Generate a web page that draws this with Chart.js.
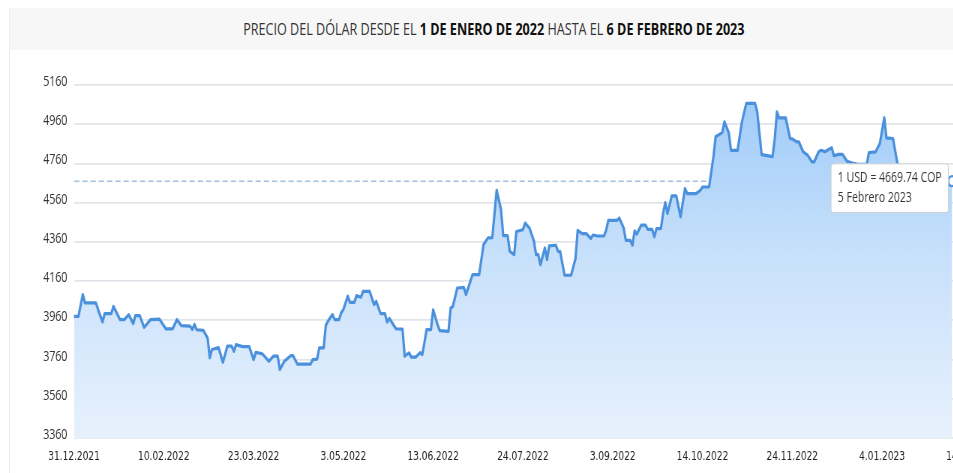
<!DOCTYPE html>
<html>
<head>
<meta charset="utf-8">
<script src="https://cdn.jsdelivr.net/npm/chart.js@4/dist/chart.umd.min.js"></script>
<style>
  html, body { margin:0; padding:0; width:953px; height:473px; overflow:hidden; background:#fff; }
  #wrap { position:absolute; left:0; top:0; width:1365px; height:473px; transform:scaleX(0.75); transform-origin:0 0; }
  #frame { position:absolute; left:12px; top:8px; width:1400px; height:470px; border-left:1.4px solid #e2e2e2; }
  #title { position:absolute; left:13px; top:8px; width:1291px; height:42px; background:#f7f7f7;
           font-family:"Open Sans", sans-serif; font-size:16.8px; color:#333; line-height:42px; text-align:center; white-space:nowrap; }
  #title b { color:#111; font-weight:700; }
  #c { position:absolute; left:0; top:50px; }
</style>
</head>
<body>
<div id="wrap">
  <div id="frame"></div>
  <div id="title">PRECIO DEL DÓLAR DESDE EL <b>1 DE ENERO DE 2022</b> HASTA EL <b>6 DE FEBRERO DE 2023</b></div>
  <canvas id="c" width="1365" height="423"></canvas>
</div>
<script>
// ---- data ----
const dates = [
  "2021-12-31","2022-01-02","2022-01-04","2022-01-05","2022-01-10","2022-01-11","2022-01-13","2022-01-14",
  "2022-01-17","2022-01-18","2022-01-21","2022-01-23","2022-01-25","2022-01-27","2022-01-28","2022-01-30",
  "2022-02-01","2022-02-04","2022-02-08","2022-02-11","2022-02-14","2022-02-16","2022-02-18","2022-02-22",
  "2022-02-23","2022-02-24","2022-02-25","2022-02-28","2022-03-02","2022-03-03","2022-03-04","2022-03-07",
  "2022-03-09","2022-03-11","2022-03-13","2022-03-14","2022-03-15","2022-03-18","2022-03-21","2022-03-23",
  "2022-03-24","2022-03-27","2022-03-30","2022-04-01","2022-04-03","2022-04-04","2022-04-06","2022-04-09",
  "2022-04-10","2022-04-12","2022-04-18","2022-04-19","2022-04-21","2022-04-22","2022-04-24","2022-04-25",
  "2022-04-26","2022-04-28","2022-04-29","2022-05-01","2022-05-02","2022-05-03","2022-05-05","2022-05-06",
  "2022-05-08","2022-05-09","2022-05-11","2022-05-12","2022-05-15","2022-05-17","2022-05-18","2022-05-20",
  "2022-05-22","2022-05-23","2022-05-24","2022-05-27","2022-05-30","2022-05-31","2022-06-02","2022-06-03",
  "2022-06-05","2022-06-07","2022-06-08","2022-06-09","2022-06-10","2022-06-12","2022-06-13","2022-06-15",
  "2022-06-16","2022-06-20","2022-06-21","2022-06-22","2022-06-24","2022-06-27","2022-06-28","2022-07-01",
  "2022-07-04","2022-07-05","2022-07-06","2022-07-08","2022-07-10","2022-07-12","2022-07-14","2022-07-15",
  "2022-07-17","2022-07-18","2022-07-20","2022-07-21","2022-07-24","2022-07-25","2022-07-27","2022-07-29",
  "2022-07-30","2022-07-31","2022-08-01","2022-08-03","2022-08-04","2022-08-05","2022-08-08","2022-08-09",
  "2022-08-10","2022-08-12","2022-08-15","2022-08-17","2022-08-18","2022-08-20","2022-08-22","2022-08-24",
  "2022-08-25","2022-08-27","2022-08-30","2022-08-31","2022-09-01","2022-09-05","2022-09-06","2022-09-08",
  "2022-09-09","2022-09-11","2022-09-12","2022-09-13","2022-09-14","2022-09-16","2022-09-18","2022-09-19",
  "2022-09-21","2022-09-22","2022-09-23","2022-09-25","2022-09-26","2022-09-27","2022-09-28","2022-09-30",
  "2022-10-02","2022-10-04","2022-10-06","2022-10-07","2022-10-11","2022-10-13","2022-10-14","2022-10-17",
  "2022-10-19","2022-10-20","2022-10-23","2022-10-24","2022-10-26","2022-10-27","2022-10-30","2022-11-01",
  "2022-11-03","2022-11-07","2022-11-08","2022-11-10","2022-11-15","2022-11-16","2022-11-17","2022-11-18",
  "2022-11-21","2022-11-23","2022-11-24","2022-11-26","2022-11-27","2022-11-29","2022-12-01","2022-12-03",
  "2022-12-04","2022-12-06","2022-12-07","2022-12-09","2022-12-10","2022-12-12","2022-12-13","2022-12-15",
  "2022-12-17","2022-12-19","2022-12-22","2022-12-24","2022-12-28","2022-12-29","2023-01-01","2023-01-03",
  "2023-01-05","2023-01-06","2023-01-09","2023-01-11","2023-01-14","2023-01-18","2023-01-22","2023-01-26",
  "2023-01-30","2023-02-02","2023-02-03","2023-02-05"
];
const copPerUsd = [
  3980,3980,4091,4049,4049,4014,3952,3994,
  3994,4031,3964,3964,3989,3943,3984,3984,
  3924,3964,3966,3916,3916,3964,3933,3930,
  3913,3939,3912,3909,3870,3769,3811,3821,
  3746,3828,3828,3802,3836,3826,3826,3760,
  3797,3789,3751,3777,3777,3709,3751,3780,
  3780,3737,3737,3760,3762,3820,3820,3935,
  3956,3990,3964,3964,3998,4015,4083,4052,
  4052,4086,4078,4108,4108,4040,4057,3994,
  3994,3951,3970,3917,3915,3777,3794,3772,
  3772,3795,3785,3845,3913,3913,4014,3938,
  3908,3904,4023,4031,4125,4128,4091,4193,
  4193,4269,4346,4380,4382,4623,4524,4392,
  4392,4312,4295,4413,4422,4456,4430,4365,
  4295,4295,4244,4329,4269,4340,4343,4312,
  4310,4190,4190,4275,4419,4402,4402,4377,
  4395,4390,4390,4419,4470,4470,4482,4430,
  4368,4368,4343,4416,4400,4445,4445,4424,
  4424,4386,4428,4428,4505,4560,4505,4595,
  4595,4488,4632,4606,4606,4623,4640,4640,
  4794,4896,4917,4972,4916,4827,4827,4972,
  5066,5066,5023,4805,4795,4887,5023,4992,
  4992,4887,4885,4870,4870,4819,4802,4768,
  4768,4819,4827,4820,4827,4840,4799,4806,
  4806,4771,4760,4755,4755,4815,4819,4862,
  4993,4890,4887,4760,4720,4690,4650,4620,
  4600,4610,4645,4669.74
];
const yTicks = [3360, 3560, 3760, 3960, 4160, 4360, 4560, 4760, 4960, 5160];
const tickDates = ["2021-12-31","2022-02-10","2022-03-23","2022-05-03","2022-06-13","2022-07-24",
                   "2022-09-03","2022-10-14","2022-11-24","2023-01-04","2023-02-14"];
const mesesEs = ["Enero","Febrero","Marzo","Abril","Mayo","Junio","Julio","Agosto","Septiembre","Octubre","Noviembre","Diciembre"];

// ---- helpers ----
const EPOCH = Date.UTC(2021, 11, 31);
const DAY = 86400000;
function toDay(s) { const [y,m,d] = s.split("-").map(Number); return Math.round((Date.UTC(y,m-1,d) - EPOCH) / DAY); }
function fromDay(n) { return new Date(EPOCH + n * DAY); }
function fmtTick(n) { const d = fromDay(n); return d.getUTCDate() + "." + String(d.getUTCMonth()+1).padStart(2,"0") + "." + d.getUTCFullYear(); }
function fmtLong(n) { const d = fromDay(n); return d.getUTCDate() + " " + mesesEs[d.getUTCMonth()] + " " + d.getUTCFullYear(); }

const points = dates.map((s, i) => ({ x: toDay(s), y: copPerUsd[i] }));
const last = points[points.length - 1];
const tickDays = tickDates.map(toDay);

Chart.Tooltip.positioners.shifted = function (items) {
  if (!items.length) return false;
  const el = items[0].element;
  return { x: el.x, y: el.y + 7 };
};

const LINE = "#4a90dc";
const chart = new Chart(document.getElementById("c"), {
  type: "line",
  data: {
    datasets: [{
      data: points,
      borderColor: LINE,
      borderWidth: 3.2,
      borderJoinStyle: "round",
      borderCapStyle: "round",
      tension: 0,
      pointRadius: 0,
      pointHoverRadius: 5,
      pointHoverBackgroundColor: "#ffffff",
      pointHoverBorderColor: LINE,
      pointHoverBorderWidth: 2.4,
      fill: "start",
      backgroundColor: (ctx) => {
        const a = ctx.chart.chartArea;
        if (!a) return "rgba(170,210,250,0.6)";
        const g = ctx.chart.ctx.createLinearGradient(0, a.top, 0, a.bottom);
        g.addColorStop(0, "#9dcaf9");
        g.addColorStop(0.5, "#c9e1fb");
        g.addColorStop(1, "#e7f1fd");
        return g;
      }
    }, {
      data: [{ x: points[0].x, y: last.y }, { x: last.x, y: last.y }],
      borderColor: "rgba(160,188,215,0.95)",
      borderWidth: 1.5,
      borderDash: [7, 4],
      pointRadius: 0,
      pointHoverRadius: 0,
      fill: false
    }]
  },
  options: {
    responsive: false,
    animation: false,
    events: [],
    layout: { padding: { top: 35, right: 40, bottom: 0, left: 0 } },
    plugins: {
      legend: { display: false },
      tooltip: {
        position: "shifted",
        xAlign: "right",
        yAlign: "center",
        backgroundColor: "#ffffff",
        borderColor: "#cfcfcf",
        borderWidth: 1,
        cornerRadius: 3,
        caretSize: 0,
        caretPadding: 5,
        displayColors: false,
        padding: { x: 9, y: 6 },
        titleFont: { family: "Open Sans", size: 14, weight: "normal" },
        bodyFont: { family: "Open Sans", size: 14, weight: "normal" },
        titleColor: "#333",
        bodyColor: "#333",
        titleMarginBottom: 3,
        filter: (item) => item.datasetIndex === 0,
        callbacks: {
          title: (items) => "1 USD = " + items[0].parsed.y.toFixed(2) + " COP",
          label: (item) => fmtLong(item.parsed.x)
        }
      }
    },
    scales: {
      x: {
        type: "linear",
        min: 0,
        max: 420,
        afterFit: (s) => { s.height = 35; },
        afterBuildTicks: (s) => { s.ticks = tickDays.map(v => ({ value: v })); },
        grid: { display: false },
        border: { display: false },
        ticks: {
          autoSkip: false,
          maxRotation: 0,
          padding: 4,
          color: "#222",
          font: { family: "DejaVu Sans", size: 12 },
          callback: (v) => fmtTick(v)
        }
      },
      y: {
        min: yTicks[0],
        max: yTicks[yTicks.length - 1],
        afterFit: (s) => { s.width = 98.7; },
        afterBuildTicks: (s) => { s.ticks = yTicks.map(v => ({ value: v })); },
        grid: { color: "#e1e5ea", lineWidth: 1.8, drawTicks: false },
        border: { display: false },
        ticks: {
          padding: 9,
          labelOffset: -3,
          color: "#333",
          font: { family: "Open Sans", size: 14 },
          callback: (v) => String(v)
        }
      }
    }
  }
});

const idx = points.length - 1;
chart.setActiveElements([{ datasetIndex: 0, index: idx }]);
chart.tooltip.setActiveElements([{ datasetIndex: 0, index: idx }], { x: 0, y: 0 });
chart.update();
</script>
</body>
</html>
